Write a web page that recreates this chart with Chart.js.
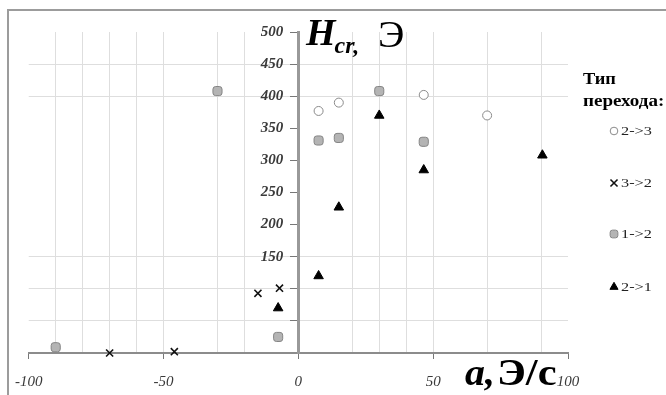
<!DOCTYPE html>
<html>
<head>
<meta charset="utf-8">
<script src="https://cdn.jsdelivr.net/npm/chart.js@4/dist/chart.umd.min.js"></script>
<style>
    html, body { margin: 0; padding: 0; background: #fff; }
</style>
</head>
<body>
<canvas id="chart" width="666" height="395"></canvas>
<script>
// values: a (Э/с) and Hcr (Э)
const names = ["2->3", "3->2", "1->2", "2->1"];

const a23 = [7.5, 15, 46.5, 70];
const h23 = [377, 390, 402, 370];

const a32 = [-70, -46, -15, -7];
const h32 = [0, 2, 93, 101];

const a12 = [-90, -30, -7.5, 7.5, 15, 30, 46.5];
const h12 = [9, 408, 25, 331, 335, 408, 329];

const a21 = [-7.5, 7.5, 15, 30, 46.5, 90.5];
const h21 = [70, 120, 227, 370, 285, 308];

const xTicks = [-100, -50, 0, 50, 100];
const yTicks = [150, 200, 250, 300, 350, 400, 450, 500];
const xGrid = [-90, -80, -70, -60, -50, -30, -20, 20, 30, 40, 50, 70, 90];
const yGrid = [50, 100, 150, 400, 450];

function points(xs, ys) {
    return xs.map((x, i) => ({x: x, y: ys[i]}));
}

const serif = '"Liberation Serif", "DejaVu Serif", serif';

const datasets = [
    {
        label: names[0],
        data: points(a23, h23),
        pointStyle: "circle",
        pointRadius: 4.5,
        pointBorderWidth: 1,
        pointBackgroundColor: "#ffffff",
        pointBorderColor: "#8a8a8a"
    },
    {
        label: names[1],
        data: points(a32, h32),
        pointStyle: "crossRot",
        pointRadius: 5,
        pointBorderWidth: 1.6,
        pointBackgroundColor: "#000000",
        pointBorderColor: "#111111"
    },
    {
        label: names[2],
        data: points(a12, h12),
        pointStyle: "rectRounded",
        pointRadius: 5.3,
        pointBorderWidth: 1,
        pointBackgroundColor: "#b4b4b4",
        pointBorderColor: "#858585"
    },
    {
        label: names[3],
        data: points(a21, h21),
        pointStyle: "triangle",
        pointRadius: 5.5,
        pointBorderWidth: 1,
        pointBackgroundColor: "#000000",
        pointBorderColor: "#000000"
    }
];
datasets.forEach(d => { d.showLine = false; d.clip = false; });

function stretchText(ctx, text, x, y, sx) {
    ctx.save();
    ctx.translate(x, y);
    ctx.scale(sx, 1);
    ctx.fillText(text, 0, 0);
    const w = ctx.measureText(text).width * sx;
    ctx.restore();
    return w;
}

// frame, captions and legend
const decor = {
    id: "decor",
    beforeDraw(chart) {
        const ctx = chart.ctx;
        ctx.save();
        ctx.strokeStyle = "#9c9c9c";
        ctx.lineWidth = 2;
        ctx.beginPath();
        ctx.moveTo(8, 395);
        ctx.lineTo(8, 10);
        ctx.lineTo(666, 10);
        ctx.stroke();
        ctx.restore();
    },
    afterDraw(chart) {
        const ctx = chart.ctx;
        ctx.save();
        ctx.fillStyle = "#000";
        ctx.textAlign = "left";
        ctx.textBaseline = "alphabetic";

        // y caption
        let x = 306;
        ctx.font = "italic bold 38px " + serif;
        x += stretchText(ctx, "H", x, 45, 1.0) - 1;
        ctx.font = "italic bold 24px " + serif;
        stretchText(ctx, "cr,", x, 53, 1.0);
        ctx.font = "38px " + serif;
        stretchText(ctx, "Э", 378, 47, 1.05);

        // x caption
        ctx.font = "italic bold 38px " + serif;
        stretchText(ctx, "a,", 465, 385, 1.05);
        ctx.font = "bold 38px " + serif;
        stretchText(ctx, "Э/с", 497, 385, 1.12);

        // legend
        ctx.font = "bold 17px " + serif;
        stretchText(ctx, "Тип", 583, 84, 1.08);
        stretchText(ctx, "перехода:", 583, 106, 1.12);
        const rows = [131, 183, 234, 287];
        ctx.font = "13px " + serif;
        ctx.textBaseline = "middle";
        chart.data.datasets.forEach((d, i) => {
            ctx.fillStyle = d.pointBackgroundColor;
            ctx.strokeStyle = d.pointBorderColor;
            ctx.lineWidth = d.pointBorderWidth;
            Chart.helpers.drawPoint(ctx, {
                pointStyle: d.pointStyle,
                radius: d.pointRadius * (d.pointStyle === "crossRot" ? 1 : 0.85),
                rotation: 0,
                borderWidth: d.pointBorderWidth
            }, 614, rows[i]);
            ctx.fillStyle = "#222";
            stretchText(ctx, d.label, 621, rows[i] + 1, 1.25);
        });
        ctx.restore();
    }
};

const config = {
    type: "scatter",
    data: { datasets: datasets },
    options: {
        responsive: false,
        animation: false,
        layout: { padding: { left: 28, top: 32, right: 98, bottom: 42 } },
        plugins: {
            legend: { display: false },
            tooltip: { enabled: false }
        },
        scales: {
            x: {
                type: "linear",
                position: { y: 0 },
                min: -100,
                max: 100,
                ticks: {
                    stepSize: 10,
                    autoSkip: false,
                    maxRotation: 0,
                    padding: 15,
                    color: "#3a3a3a",
                    font: { family: serif, size: 15, style: "italic" },
                    callback: function (value) {
                        return xTicks.includes(value) ? value : "";
                    }
                },
                grid: {
                    color: ctx => xGrid.includes(ctx.tick && ctx.tick.value) ? "#dedede" : "rgba(0,0,0,0)",
                    tickColor: ctx => xTicks.includes(ctx.tick && ctx.tick.value) ? "#777" : "rgba(0,0,0,0)",
                    tickLength: 5,
                    lineWidth: 1
                },
                border: { color: "#8c8c8c", width: 2 }
            },
            y: {
                type: "linear",
                position: { x: 0 },
                min: 0,
                max: 500,
                ticks: {
                    stepSize: 50,
                    color: "#3a3a3a",
                    font: { family: serif, size: 15, style: "italic", weight: "bold" },
                    callback: function (value) {
                        return yTicks.includes(value) ? value + "\u2002\u2002" : "";
                    }
                },
                grid: {
                    color: ctx => yGrid.includes(ctx.tick && ctx.tick.value) ? "#dedede" : "rgba(0,0,0,0)",
                    tickColor: "#777",
                    tickLength: 7,
                    lineWidth: 1
                },
                border: { color: "#999999", width: 3 }
            }
        }
    },
    plugins: [decor]
};

new Chart(document.getElementById("chart").getContext("2d"), config);
</script>
</body>
</html>
